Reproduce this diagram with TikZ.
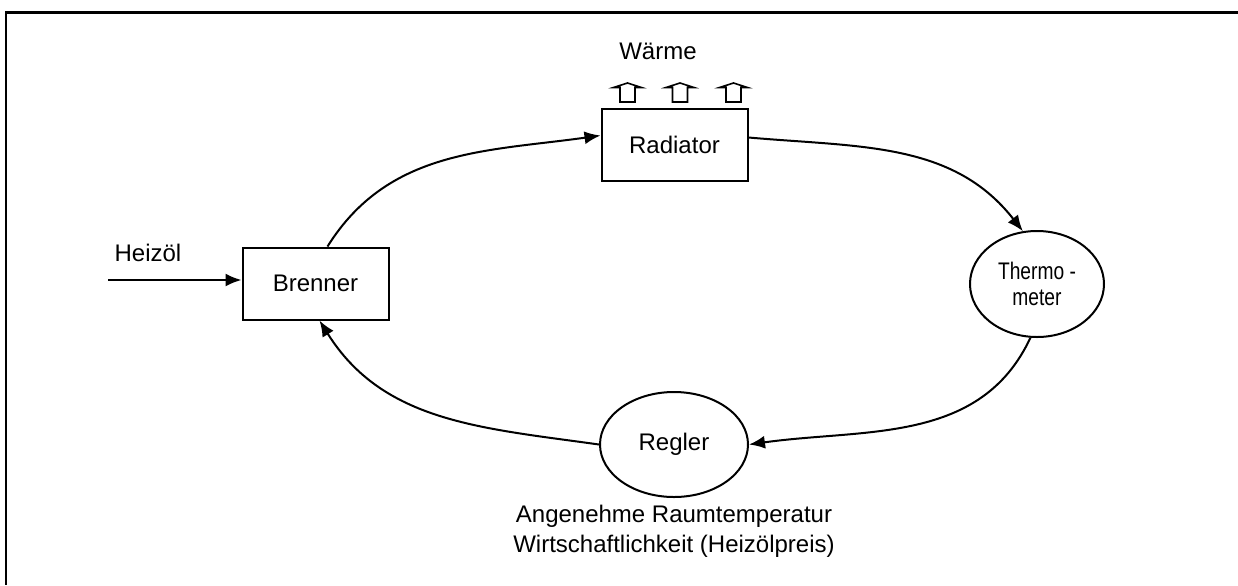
\documentclass[tikz,border=0pt]{standalone}
\usepackage{fontspec}
\setmainfont{Liberation Sans}
\newfontfamily\narrowfont[FakeStretch=0.8]{Liberation Sans}
\usetikzlibrary{shapes.geometric, arrows.meta, positioning}
\tikzstyle{block} = [rectangle, minimum width=73pt, minimum height=36pt, text centered, draw=black, line width=1pt]
\tikzstyle{roundblock} = [ellipse, inner sep=0pt, text centered, draw=black, line width=1pt]
\tikzstyle{arrow} = [line width=1pt, -{Latex[length=8pt,width=6.5pt]}]
\tikzstyle{heat} = [line width=0.8pt, fill=white]

\begin{document}
\begin{tikzpicture}[x=0.5pt, y=0.5pt, font=\fontsize{12pt}{15pt}\selectfont]
	\useasboundingbox (0,0) rectangle (1238,-585);
	\draw[line width=1.1pt] (1238,-12.5) -- (6,-12.5) -- (6,-585);

	\node (brenner) [block] at (315.5,-283.5) {Brenner};
	\node (radiator) [block] at (674.5,-144.5) {Radiator};
	\node (thermo) [roundblock, minimum width=67pt, minimum height=53pt, align=center, font=\narrowfont\fontsize{12pt}{13pt}\selectfont] at (1037,-284) {Thermo -\\meter};
	\node (regler) [roundblock, minimum width=74pt, minimum height=52.5pt] at (674,-444.5) {Regler};
	\node (ziel) [below=0pt of regler, align=center] {Angenehme Raumtemperatur\\Wirtschaftlichkeit (Heizölpreis)};
	\node (oil) at (148,-253) {Heizöl};
	\node (waerme) at (658,-51) {Wärme};
	\coordinate (oilin) at (108,-280);

	\foreach \x in {627.5,680,733.5}
		\draw[heat] (\x,-83) -- (\x+14,-87.5) -- (\x+7.5,-87.5) -- (\x+7.5,-102) -- (\x-7.5,-102) -- (\x-7.5,-87.5) -- (\x-14,-87.5) -- cycle;

	\draw [arrow] (oilin) -- (oilin -| brenner.west);
	\draw [arrow] ([xshift=6pt]brenner.north) to[out=58,in=188] ([yshift=4.5pt]radiator.west);
	\draw [arrow] ([yshift=3.5pt]radiator.east) to[out=-5,in=128] (thermo.105);
	\draw [arrow] (thermo.263) to[out=245,in=8] (regler.east);
	\draw [arrow] (regler.west) to[out=172,in=-58] ([xshift=2pt]brenner.south);
\end{tikzpicture}
\end{document}
